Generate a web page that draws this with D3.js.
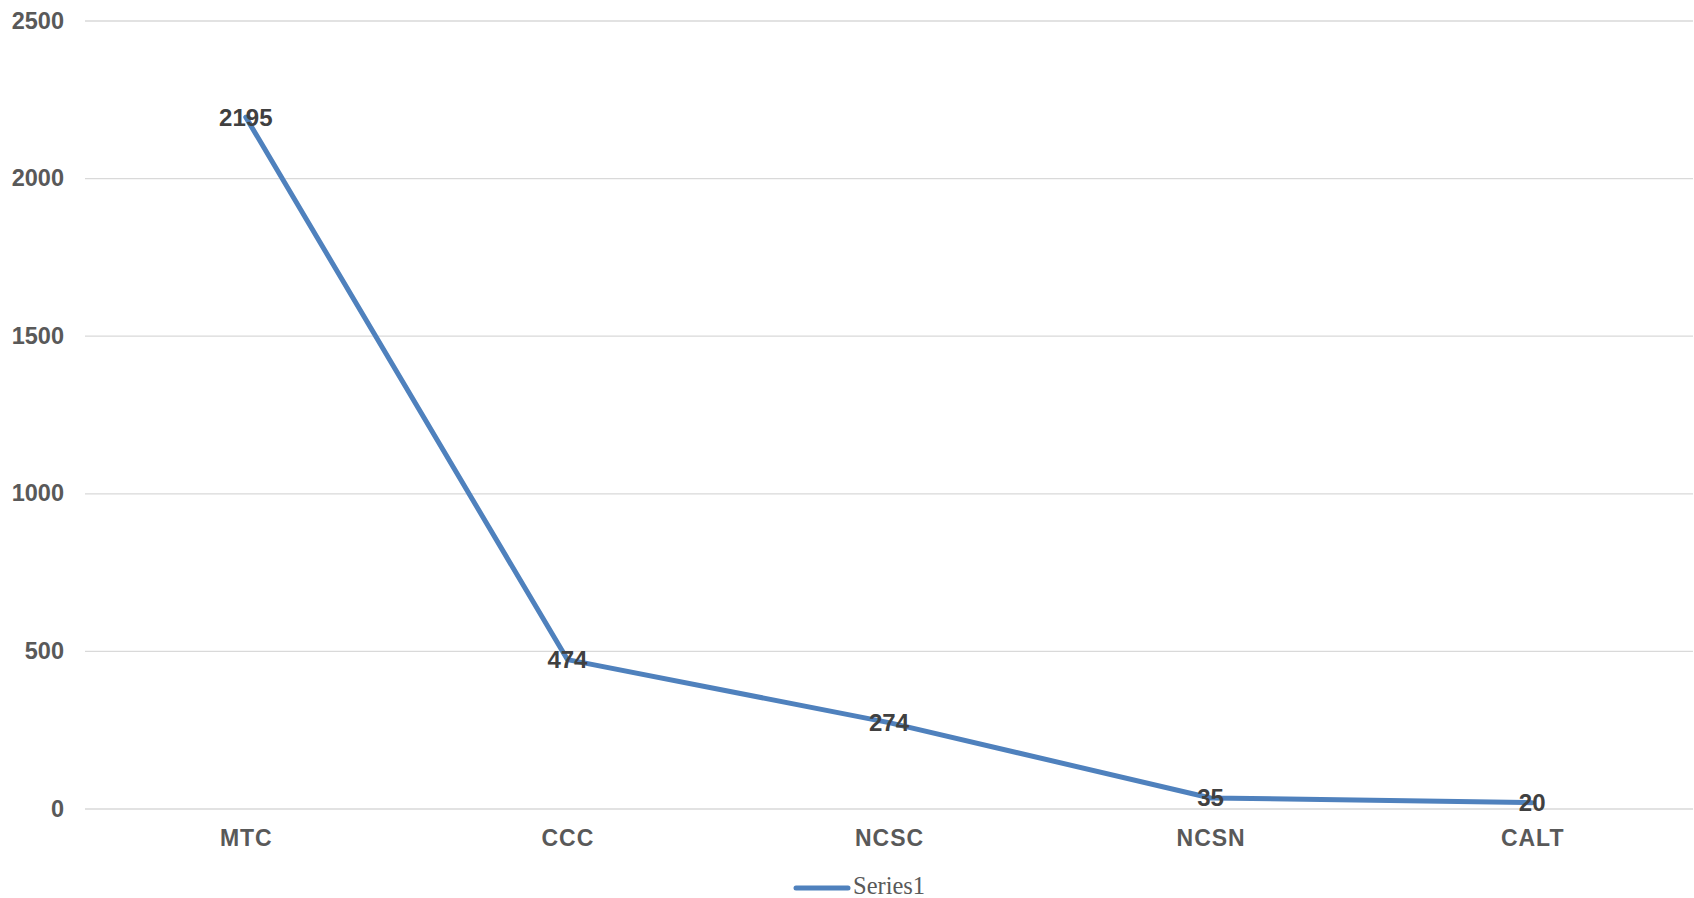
<!DOCTYPE html>
<html>
<head>
<meta charset="utf-8">
<script src="https://cdn.jsdelivr.net/npm/d3@7"></script>
<style>
  html, body { margin: 0; padding: 0; background: #fff; }
  svg { display: block; }
</style>
</head>
<body>
<svg id="chart" width="1694" height="898"></svg>
<script>
// Categories and values of the single series
const categories = ["MTC", "CCC", "NCSC", "NCSN", "CALT"];
const values = [2195, 474, 274, 35, 20];
const yTicks = [0, 500, 1000, 1500, 2000, 2500];
const seriesName = "Series1";

const svg = d3.select("#chart");
const plot = { left: 85, right: 1693, top: 21, bottom: 809 };

const x = d3.scalePoint()
  .domain(categories)
  .range([plot.left, plot.right])
  .padding(0.5);

const y = d3.scaleLinear()
  .domain([0, 2500])
  .range([plot.bottom, plot.top]);

// Horizontal gridlines
svg.append("g")
  .selectAll("line")
  .data(yTicks)
  .join("line")
  .attr("x1", plot.left)
  .attr("x2", plot.right)
  .attr("y1", d => y(d))
  .attr("y2", d => y(d))
  .attr("stroke", "#d9d9d9")
  .attr("stroke-width", 1.3);

// Y axis labels
const yAxis = d3.axisLeft(y).tickValues(yTicks).tickFormat(d3.format("d")).tickSize(0).tickPadding(0);
const gy = svg.append("g")
  .attr("transform", `translate(64,0)`)
  .call(yAxis);
gy.select(".domain").remove();
gy.selectAll("text")
  .attr("font-family", "'Liberation Sans', Arial, sans-serif")
  .attr("font-size", 23.5)
  .attr("font-weight", "bold")
  .attr("fill", "#595959")
  .attr("dy", "0.3em");

// X axis labels
const xAxis = d3.axisBottom(x).tickSize(0).tickPadding(0);
const gx = svg.append("g")
  .attr("transform", `translate(0,${plot.bottom})`)
  .call(xAxis);
gx.select(".domain").remove();
gx.selectAll("text")
  .attr("font-family", "'Liberation Sans', Arial, sans-serif")
  .attr("font-size", 23)
  .attr("font-weight", "bold")
  .attr("letter-spacing", "1px")
  .attr("fill", "#595959")
  .attr("y", 29)
  .attr("dy", "0.35em");

// Series line
const line = d3.line()
  .x((d, i) => x(categories[i]))
  .y(d => y(d));

svg.append("path")
  .datum(values)
  .attr("d", line)
  .attr("fill", "none")
  .attr("stroke", "#4f81bd")
  .attr("stroke-width", 5)
  .attr("stroke-linejoin", "round")
  .attr("stroke-linecap", "round");

// Data labels centred on each point
svg.append("g")
  .selectAll("text")
  .data(values)
  .join("text")
  .attr("x", (d, i) => x(categories[i]))
  .attr("y", d => y(d))
  .attr("dy", "0.35em")
  .attr("text-anchor", "middle")
  .attr("font-family", "'Liberation Sans', Arial, sans-serif")
  .attr("font-size", 24)
  .attr("font-weight", "bold")
  .attr("fill", "#404040")
  .text(d => d);

// Legend
const legend = svg.append("g").attr("transform", "translate(796,888)");
legend.append("line")
  .attr("x1", 0).attr("x2", 52)
  .attr("y1", 0).attr("y2", 0)
  .attr("stroke", "#4f81bd")
  .attr("stroke-width", 5)
  .attr("stroke-linecap", "round");
legend.append("text")
  .attr("x", 57)
  .attr("y", 6)
  .attr("font-family", "'Liberation Serif', 'Times New Roman', serif")
  .attr("font-size", 24.5)
  .attr("fill", "#595959")
  .text(seriesName);
</script>
</body>
</html>
